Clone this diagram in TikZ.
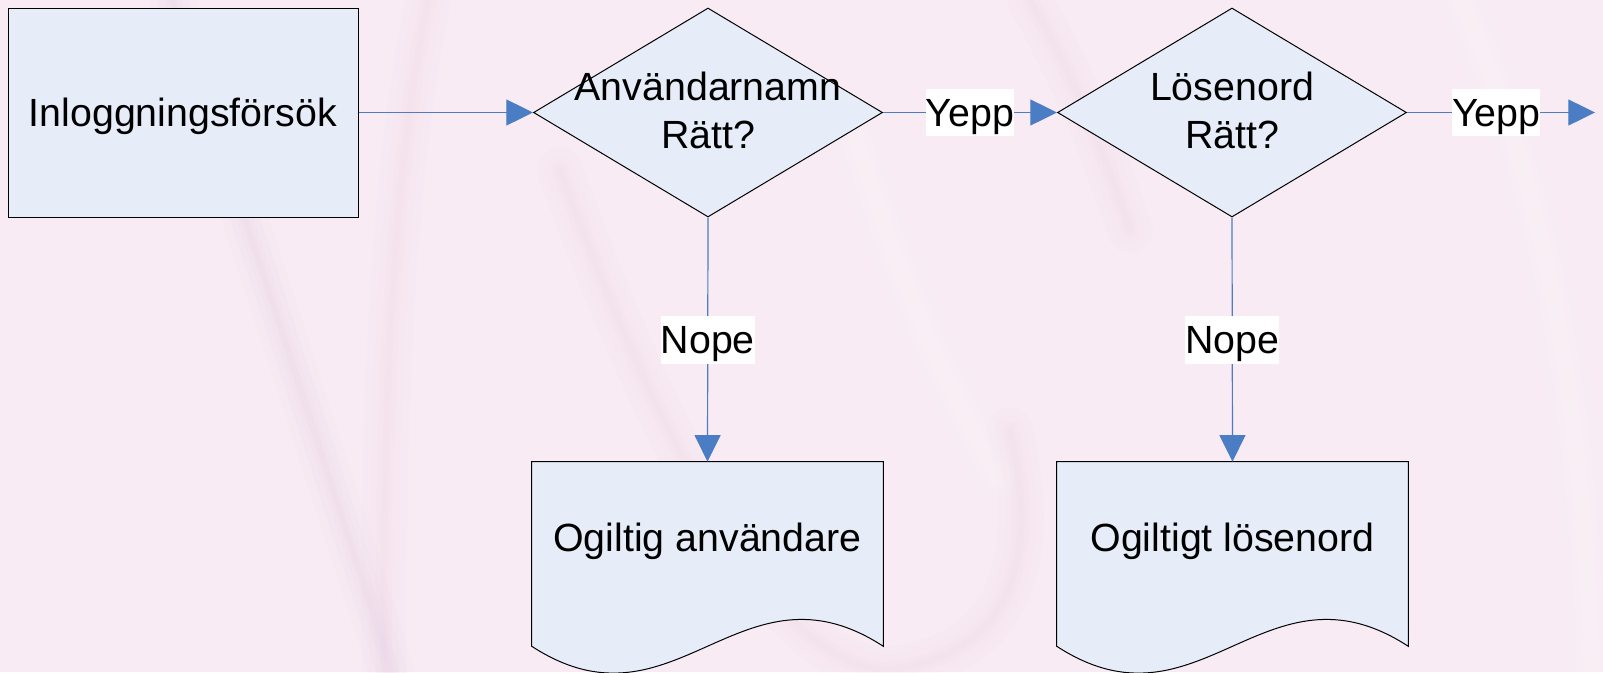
\documentclass[tikz,border=0pt]{standalone}
\usepackage{fontspec}
\setmainfont{Liberation Sans}
\usetikzlibrary{shapes.geometric,arrows.meta,calc}

\definecolor{bgpink}{HTML}{F8EBF4}
\definecolor{streakdark}{HTML}{E2C6D6}
\definecolor{shapefill}{HTML}{E6EDF8}
\definecolor{flowblue}{HTML}{4A7DC4}

\begin{document}
\begin{tikzpicture}[x=0.75pt,y=-0.75pt,
  every node/.style={font=\fontsize{29.5}{36}\selectfont},
  oneline/.style={inner sep=0pt, text height=28.5pt, text depth=7.4pt},
  processbox/.style={draw=black, line width=0.75pt, fill=shapefill,
    minimum width=262.5pt, minimum height=156.75pt, inner sep=0pt},
  decision/.style={diamond, draw=black, line width=0.75pt, fill=shapefill,
    minimum width=261.75pt, minimum height=156.75pt, inner sep=0pt},
  docarea/.style={minimum width=263.25pt, minimum height=138pt, inner sep=0pt},
  docoutline/.style={draw=black, line width=0.75pt, fill=shapefill},
  twoline/.style={align=center, inner sep=0pt},
  flow/.style={draw=flowblue, line width=0.9pt,
    -{Triangle[length=20pt,width=19.5pt]}},
  tag/.style={oneline, fill=white},
  darkstreak/.style={draw=streakdark, line cap=round},
  lightstreak/.style={draw=white, line cap=round}
]

% page background
\fill[bgpink] (0,0) rectangle (1603,672);
\useasboundingbox (0,0) rectangle (1603,672);

% soft swooshes of the slide background, built from stacked faint strokes
\foreach \w/\o in {34/0.05,22/0.06,12/0.07,5/0.08} {
  \draw[darkstreak, line width=\w pt, opacity=\o]
    (172,0) .. controls (250,230) and (320,450) .. (392,672);
  \draw[darkstreak, line width=\w pt, opacity=0.6*\o]
    (428,0) .. controls (398,150) and (382,350) .. (384,672);
  \draw[darkstreak, line width=\w pt, opacity=0.8*\o]
    (560,170) .. controls (650,420) and (780,690) .. (900,668)
    .. controls (1010,650) and (1040,560) .. (1010,430);
  \draw[darkstreak, line width=\w pt, opacity=0.8*\o]
    (1030,0) .. controls (1070,70) and (1100,140) .. (1130,230);
  \draw[lightstreak, line width=\w pt, opacity=\o]
    (850,120) .. controls (890,250) and (930,360) .. (1000,480);
  \draw[lightstreak, line width=\w pt, opacity=\o]
    (1460,0) .. controls (1530,150) and (1580,350) .. (1592,672);
}

% process and decisions
\node[processbox] (start) at (183,112.5) {};
\node[oneline] at (start.center) {Inloggningsförsök};

\node[decision] (user) at (708,112.5) {};
\node[twoline, yshift=1.5pt] at (user.center) {Användarnamn\\Rätt?};

\node[decision] (pass) at (1232,112.5) {};
\node[twoline, yshift=1.5pt] at (pass.center) {Lösenord\\Rätt?};

% document outputs with wavy lower edge
\node[docarea] (baduser) at (707.5,554) {};
\path[docoutline] (baduser.north west) -- (baduser.north east) -- (baduser.south east)
  .. controls ($(baduser.south east)+(-143,-93)$) and ($(baduser.south west)+(143,93)$)
  .. (baduser.south west) -- cycle;
\node[oneline, yshift=12.75pt] at (baduser.center) {Ogiltig användare};

\node[docarea] (badpass) at (1232.5,554) {};
\path[docoutline] (badpass.north west) -- (badpass.north east) -- (badpass.south east)
  .. controls ($(badpass.south east)+(-143,-93)$) and ($(badpass.south west)+(143,93)$)
  .. (badpass.south west) -- cycle;
\node[oneline, yshift=12.75pt] at (badpass.center) {Ogiltigt lösenord};

% connectors
\coordinate (granted) at (1595,112.5);
\draw[flow] (start.east) -- (user.west);
\draw[flow] (user.east) -- node[tag] {Yepp} (pass.west);
\draw[flow] (pass.east) -- node[tag, pos=0.475] {Yepp} (granted);
\draw[flow] (user.south) -- node[tag] {Nope} (baduser.north);
\draw[flow] (pass.south) -- node[tag] {Nope} (badpass.north);

\end{tikzpicture}
\end{document}
